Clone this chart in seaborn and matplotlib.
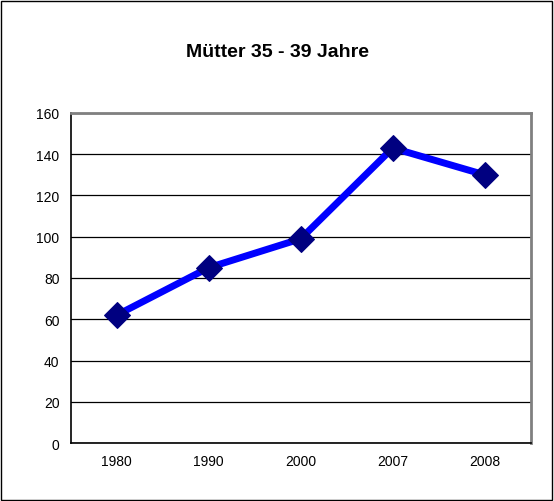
import pandas as pd
import numpy as np
import seaborn as sns
import matplotlib.pyplot as plt
from matplotlib.patches import Rectangle
from matplotlib.ticker import FixedLocator

# data
years = ["1980", "1990", "2000", "2007", "2008"]
births = [62, 85, 99, 143, 130]
title = "Mütter 35 - 39 Jahre"

df = pd.DataFrame({"year": years, "value": births})

sns.set_style("white")
plt.rcParams["font.family"] = ["Liberation Sans", "DejaVu Sans"]
plt.rcParams["text.color"] = "black"

fig = plt.figure(figsize=(5.54, 5.02), dpi=100)
ax = fig.add_axes([0.1276, 0.1155, 0.8304, 0.6575])

sns.lineplot(data=df, x="year", y="value", ax=ax, color="#0000FF", linewidth=5,
             marker="D", markersize=13.5, markerfacecolor="#000080",
             markeredgecolor="#000080", sort=False)

ax.set_xlim(-0.5, len(years) - 0.5)
ax.set_ylim(0, 160)
ax.set_yticks(np.arange(0, 161, 20))
ax.set_xlabel("")
ax.set_ylabel("")

# excel style: ticks between categories
ax.xaxis.set_minor_locator(FixedLocator(np.arange(-0.5, len(years), 1.0)))
ax.tick_params(axis="x", which="major", length=0, labelsize=10, pad=8, colors="black")
ax.tick_params(axis="x", which="minor", length=5, width=1, color="black", direction="out")
ax.tick_params(axis="y", length=5, width=1, labelsize=10, direction="out", colors="black", pad=3)

ax.yaxis.grid(True, color="black", linewidth=0.9)
ax.set_axisbelow(True)

for side in ["left", "bottom"]:
    ax.spines[side].set_color("black")
    ax.spines[side].set_linewidth(1.2)
for side in ["top", "right"]:
    ax.spines[side].set_color("#808080")
    ax.spines[side].set_linewidth(2)

fig.text(0.5, 0.895, title, ha="center", va="center", fontsize=14,
         fontweight="bold", color="black")

# outer chart frame
fig.patches.append(Rectangle((0.002, 0.002), 0.994, 0.994, transform=fig.transFigure,
                             fill=False, edgecolor="black", linewidth=1))

fig.savefig("out.png", dpi=100)
